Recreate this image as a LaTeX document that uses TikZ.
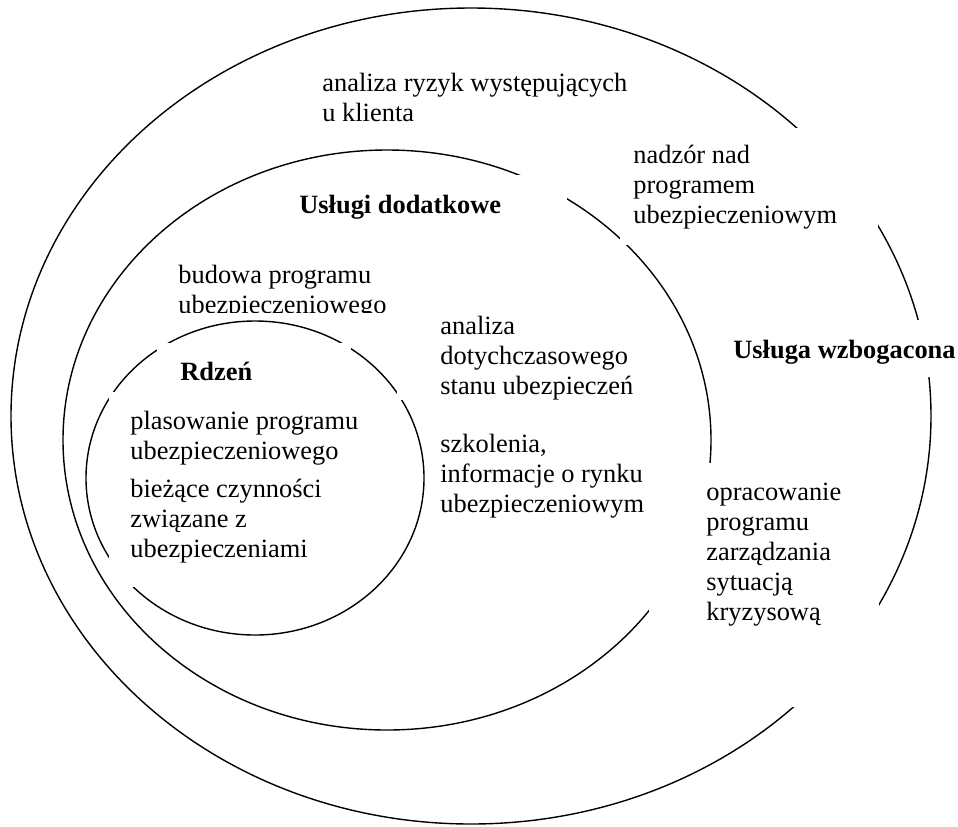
\documentclass[tikz,border=0pt]{standalone}
\usepackage{fontspec}
\setmainfont{Liberation Serif}
\usepackage{tikz}
\usetikzlibrary{positioning}
\newcommand{\cover}[4]{
  \fill[white] (#1,#2) rectangle (#3,#4);
}
\tikzset{
  ring/.style={draw=black, line width=0.7pt},
  txt/.style={anchor=base west, align=left, inner sep=0pt,
    font=\fontsize{13.2}{15}\selectfont},
  head/.style={txt, font=\fontsize{13.2}{15}\selectfont\bfseries}
}

\begin{document}
\begin{tikzpicture}[x=0.5pt, y=-0.5pt]
    \useasboundingbox (0,0) rectangle (958,826);
    % three rings
    \draw[ring] (471,416) ellipse [x radius=460, y radius=408];
    \draw[ring] (387,440) ellipse [x radius=324, y radius=290];
    \draw[ring] (255,478) ellipse [x radius=169, y radius=157];
    % white text boxes over the rings
    \cover{620}{128}{878}{245}
    \cover{285}{175}{567}{235}
    \cover{725}{320}{958}{377}
    \cover{649}{463}{879}{707}
    \cover{397}{318}{660}{400}
    \cover{157}{343}{351}{392}
    \cover{109}{392}{372}{587}
    % outer ring (base = last line)
    \node[txt] (ryzyka) at (322,121) {analiza ryzyk występujących\\u klienta};
    \node[txt] (nadzor) at (633,223) {nadzór nad\\programem\\ubezpieczeniowym};
    \node[head] (wzbog) at (733,358) {Usługa wzbogacona};
    \node[txt] (kryzys) at (706,620) {opracowanie\\programu\\zarządzania\\sytuacją\\kryzysową};
    % middle ring
    \node[head] (dodat) at (299,213) {Usługi dodatkowe};
    \begin{scope}
      \clip (170,250) rectangle (420,312);
      \node[txt] (budowa) at (178,313) {budowa programu\\ubezpieczeniowego};
    \end{scope}
    \node[txt] (stan) at (440,394) {analiza\\dotychczasowego\\stanu ubezpieczeń};
    \node[txt] (szkol) at (440,512) {szkolenia,\\informacje o rynku\\ubezpieczeniowym};
    % core
    \node[head] (rdzen) at (180,380) {Rdzeń};
    \node[txt] (plas) at (130,459) {plasowanie programu\\ubezpieczeniowego};
    \node[txt] (biez) at (130,557) {bieżące czynności\\związane z\\ubezpieczeniami};
\end{tikzpicture}
\end{document}
